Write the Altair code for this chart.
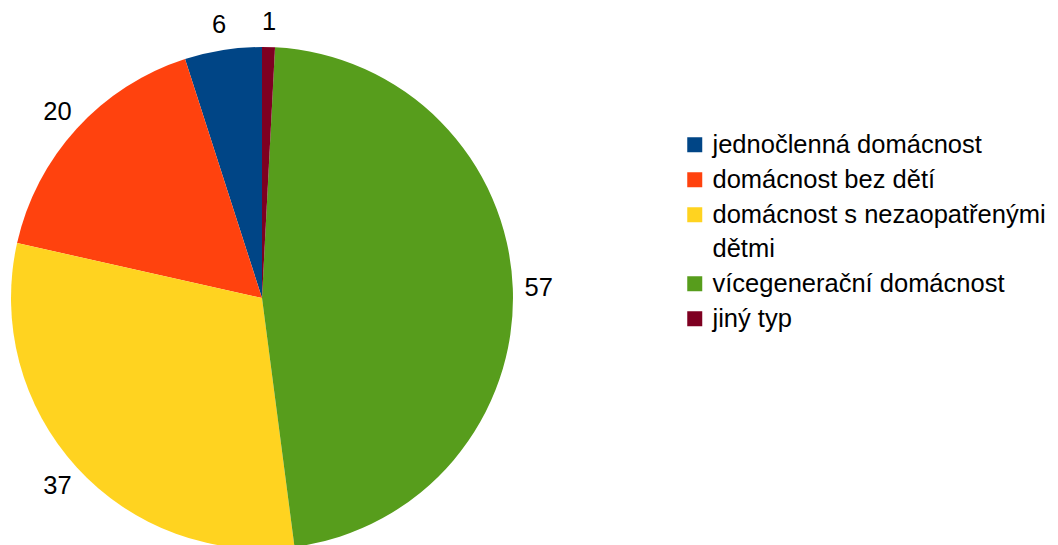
import altair as alt
import pandas as pd

categories = ["jednočlenná domácnost", "domácnost bez dětí",
              "domácnost s nezaopatřenými dětmi", "vícegenerační domácnost", "jiný typ"]
values = [6, 20, 37, 57, 1]
colors = ["#004586", "#ff420e", "#ffd320", "#579d1c", "#7e0021"]
draw_order = [4, 3, 2, 1, 0]

df = pd.DataFrame({"cat": categories, "value": values, "ord": draw_order})

FONT = "Liberation Sans"

base = alt.Chart(df).encode(
    theta=alt.Theta("value:Q", stack=True),
    order=alt.Order("ord:Q", sort="ascending"),
)

pie = base.mark_arc(outerRadius=251, stroke=None).encode(
    x=alt.value(254), y=alt.value(290),
    color=alt.Color(
        "cat:N",
        scale=alt.Scale(domain=categories, range=colors),
        legend=alt.Legend(
            title=None, orient="none", legendX=674, legendY=124,
            padding=0, labelFont=FONT, labelFontSize=25.5, labelColor="black",
            symbolType="square", symbolSize=225, symbolStrokeWidth=0,
            labelOffset=5, rowPadding=8, labelLimit=500,
            labelExpr="datum.label == 'domácnost s nezaopatřenými dětmi' ? ['domácnost s nezaopatřenými', 'dětmi'] : datum.label",
        ),
    ),
)

labels = base.mark_text(radius=277, font=FONT, fontSize=25.5, color="black").encode(
    x=alt.value(254), y=alt.value(291),
    text="value:Q",
)

chart = (pie + labels).properties(
    width=1042, height=537, padding=0,
    autosize=alt.AutoSizeParams(type="none"),
).configure(
    style={"guide-label": {"lineHeight": 34}}
).configure_view(stroke=None)

chart.save("out.html", embed_options={"renderer": "svg", "actions": False})
